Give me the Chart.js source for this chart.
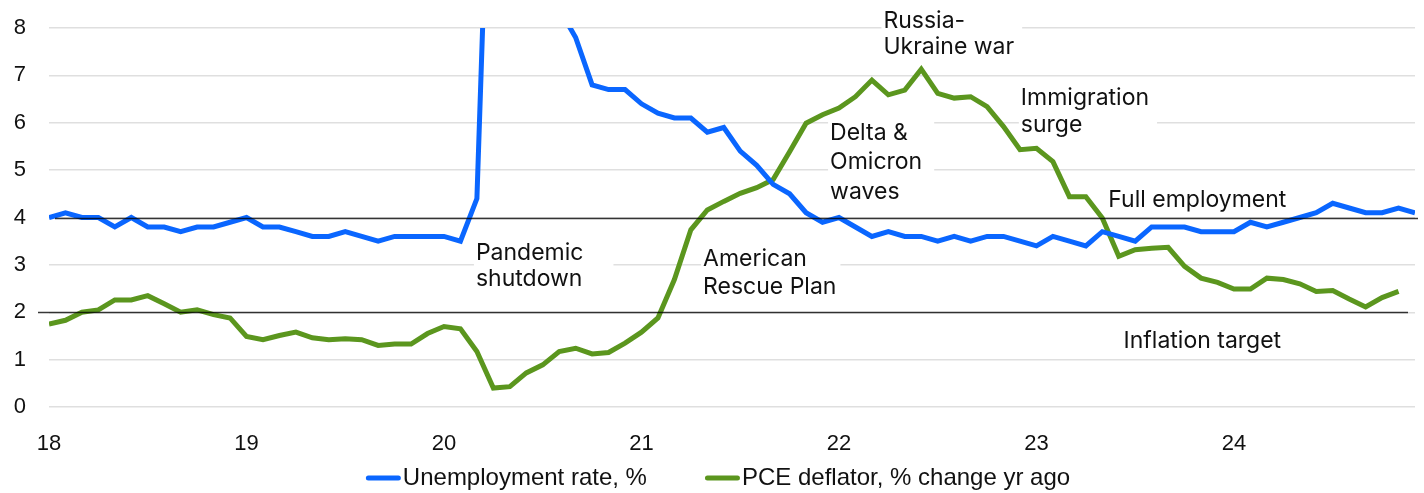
<!DOCTYPE html>
<html>
<head>
<meta charset="utf-8">
<script src="https://cdn.jsdelivr.net/npm/chart.js@4.4.1/dist/chart.umd.min.js"></script>
<style>
  html, body { margin: 0; padding: 0; background: #fff; }
  #wrap { width: 1424px; height: 493px; }
</style>
</head>
<body>
<div id="wrap"><canvas id="chart" width="1424" height="493"></canvas></div>
<script>
// x axis: one point per month, Jan 2018 .. Dec 2024, labelled at January
const years = ['18', '19', '20', '21', '22', '23', '24'];
const monthNames = ['Jan', 'Feb', 'Mar', 'Apr', 'May', 'Jun', 'Jul', 'Aug', 'Sep', 'Oct', 'Nov', 'Dec'];
const months = years.flatMap(y => monthNames.map(m => m + ' ' + y));

const unemployment = [
  4.0, 4.1, 4.0, 4.0, 3.8, 4.0, 3.8, 3.8, 3.7, 3.8, 3.8, 3.9,
  4.0, 3.8, 3.8, 3.7, 3.6, 3.6, 3.7, 3.6, 3.5, 3.6, 3.6, 3.6,
  3.6, 3.5, 4.4, 14.8, 13.2, 11.0, 10.2, 8.4, 7.8, 6.8, 6.7, 6.7,
  6.4, 6.2, 6.1, 6.1, 5.8, 5.9, 5.4, 5.1, 4.7, 4.5, 4.1, 3.9,
  4.0, 3.8, 3.6, 3.7, 3.6, 3.6, 3.5, 3.6, 3.5, 3.6, 3.6, 3.5,
  3.4, 3.6, 3.5, 3.4, 3.7, 3.6, 3.5, 3.8, 3.8, 3.8, 3.7, 3.7,
  3.7, 3.9, 3.8, 3.9, 4.0, 4.1, 4.3, 4.2, 4.1, 4.1, 4.2, 4.1
];

const pceDeflator = [
  1.75, 1.83, 2.00, 2.05, 2.26, 2.26, 2.35, 2.18, 2.00, 2.05, 1.95, 1.88,
  1.49, 1.42, 1.51, 1.58, 1.46, 1.42, 1.44, 1.42, 1.30, 1.33, 1.33, 1.55,
  1.70, 1.65, 1.17, 0.40, 0.43, 0.72, 0.89, 1.17, 1.24, 1.12, 1.15, 1.35,
  1.58, 1.88, 2.69, 3.74, 4.16, 4.34, 4.51, 4.63, 4.80, 5.39, 5.99, 6.17,
  6.31, 6.55, 6.90, 6.59, 6.69, 7.13, 6.62, 6.52, 6.55, 6.34, 5.92, 5.43,
  5.46, 5.18, 4.44, 4.44, 3.99, 3.18, 3.32, 3.35, 3.37, 2.97, 2.72, 2.63,
  2.49, 2.49, 2.72, 2.69, 2.60, 2.44, 2.46, 2.28, 2.11, 2.31, 2.44
];

const yTicks = [0, 1, 2, 3, 4, 5, 6, 7, 8];

// reference levels: full employment and inflation target
const fullEmployment = 4;
const inflationTarget = 2;

const noteTexts = [
  ['Pandemic', 'shutdown'],
  ['American', 'Rescue Plan'],
  ['Delta &', 'Omicron', 'waves'],
  ['Russia-', 'Ukraine war'],
  ['Immigration', 'surge'],
  ['Full employment'],
  ['Inflation target']
];

// where each note sits: month index and value of the first baseline
const notePlaces = [
  { at: 25.94, val: 3.11, lh: 26.7, padR: 30 },
  { at: 39.74, val: 2.97, lh: 27.5, padR: 4 },
  { at: 47.46, val: 5.64, lh: 29.5, padR: 12 },
  { at: 50.70, val: 7.99, lh: 26, padR: 8 },
  { at: 59.05, val: 6.38, lh: 27.7, padR: 8 },
  { at: 64.36, val: 4.23, lh: 27, padR: 6 },
  { at: 65.29, val: 1.24, lh: 27, padR: 6 }
];

const BLUE = '#0a66ff';
const GREEN = '#5b961e';
const TICK_FONT = '"Liberation Sans", Arial, sans-serif';
const NOTE_FONT = '23px Inter, "Liberation Sans", sans-serif';
const LEGEND_FONT = '24px "Liberation Sans", Arial, sans-serif';

const notesPlugin = {
  id: 'notes',
  beforeDatasetsDraw(chart) {
    const { ctx, scales: { x, y } } = chart;
    ctx.save();
    ctx.font = NOTE_FONT;
    ctx.textBaseline = 'alphabetic';
    ctx.textAlign = 'left';
    noteTexts.forEach((lines, i) => {
      const p = notePlaces[i];
      const px = x.getPixelForValue(p.at);
      const py = y.getPixelForValue(p.val);
      const w = Math.max(...lines.map(l => ctx.measureText(l).width));
      ctx.fillStyle = '#fff';
      ctx.fillRect(px - 2, py - 21, w + p.padR + 2, (lines.length - 1) * p.lh + 28);
      ctx.fillStyle = '#111';
      lines.forEach((l, k) => ctx.fillText(l, px, py + k * p.lh));
    });
    ctx.restore();
  }
};

const refLinePlugin = {
  id: 'refLines',
  afterDatasetsDraw(chart) {
    const { ctx, chartArea, scales: { y } } = chart;
    ctx.save();
    ctx.strokeStyle = 'rgba(0,0,0,0.78)';
    ctx.lineWidth = 1.5;
    const yf = Math.round(y.getPixelForValue(fullEmployment)) + 0.5;
    const yi = Math.round(y.getPixelForValue(inflationTarget)) + 0.5;
    ctx.beginPath();
    ctx.moveTo(chartArea.left + 6, yf);
    ctx.lineTo(chartArea.right + 3, yf);
    ctx.moveTo(chartArea.left - 11, yi);
    ctx.lineTo(chartArea.right - 7, yi);
    ctx.stroke();
    ctx.restore();
  }
};

const legendPlugin = {
  id: 'bottomLegend',
  afterDraw(chart) {
    const ctx = chart.ctx;
    ctx.save();
    ctx.font = LEGEND_FONT;
    const sw = 35, gap = 2, between = 58;
    const items = chart.data.datasets.map(ds => ({
      label: ds.label, color: ds.borderColor, w: ctx.measureText(ds.label).width
    }));
    const total = items.reduce((s, it) => s + sw + gap + it.w, 0) + between * (items.length - 1);
    let cx = chart.width / 2 - total / 2 + 6;
    const cy = chart.height - 15;
    ctx.textBaseline = 'middle';
    items.forEach(it => {
      ctx.strokeStyle = it.color;
      ctx.lineWidth = 5;
      ctx.lineCap = 'round';
      ctx.beginPath();
      ctx.moveTo(cx + 2.5, cy);
      ctx.lineTo(cx + sw - 2.5, cy);
      ctx.stroke();
      ctx.fillStyle = '#111';
      ctx.fillText(it.label, cx + sw + gap, cy);
      cx += sw + gap + it.w + between;
    });
    ctx.restore();
  }
};

const ctx = document.getElementById('chart').getContext('2d');
new Chart(ctx, {
  type: 'line',
  data: {
    labels: months,
    datasets: [
      {
        label: 'Unemployment rate, %',
        data: unemployment,
        borderColor: BLUE,
        borderWidth: 5,
        pointRadius: 0,
        tension: 0,
        clip: 0
      },
      {
        label: 'PCE deflator, % change yr ago',
        data: pceDeflator,
        borderColor: GREEN,
        borderWidth: 5,
        pointRadius: 0,
        tension: 0,
        clip: 0
      }
    ]
  },
  options: {
    responsive: false,
    animation: false,
    devicePixelRatio: 1,
    layout: { padding: { top: 28, right: 9, bottom: 32, left: 0 } },
    plugins: {
      legend: { display: false },
      tooltip: { enabled: false }
    },
    scales: {
      x: {
        grid: { display: false, drawTicks: false },
        border: { display: false },
        ticks: {
          autoSkip: false,
          maxRotation: 0,
          padding: 24,
          color: '#111',
          font: { family: TICK_FONT, size: 22 },
          callback: (v, i) => (i % 12 === 0 ? years[i / 12] : '')
        },
        afterFit: s => {
          s.height = 54;
          s.paddingLeft = 0;
          s.paddingRight = 0;
        }
      },
      y: {
        min: 0,
        max: 8,
        afterBuildTicks: s => { s.ticks = yTicks.map(v => ({ value: v })); },
        grid: { color: '#dfdfdf', lineWidth: 1.5, drawTicks: false },
        border: { display: false },
        ticks: {
          padding: 23,
          color: '#111',
          font: { family: TICK_FONT, size: 22 }
        },
        afterFit: s => {
          s.width = 49;
          s.paddingTop = 0;
          s.paddingBottom = 0;
        }
      }
    }
  },
  plugins: [notesPlugin, refLinePlugin, legendPlugin]
});
</script>
</body>
</html>
